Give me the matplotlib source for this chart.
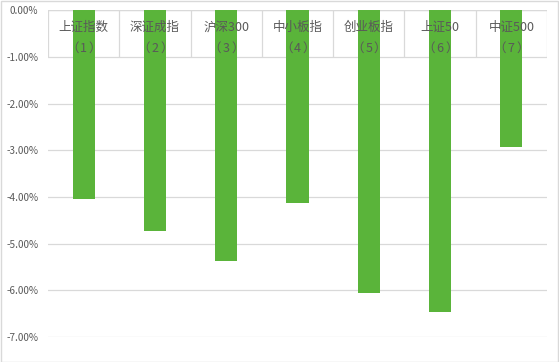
import numpy as np
import matplotlib
matplotlib.use("Agg")
import matplotlib.pyplot as plt
from matplotlib.ticker import FuncFormatter

plt.rcParams['font.family'] = ['Noto Sans CJK SC', 'DejaVu Sans']

# data (percent)
names = ["上证指数", "深证成指", "沪深300", "中小板指", "创业板指", "上证50", "中证500"]
nums = ["（1）", "（2）", "（3）", "（4）", "（5）", "（6）", "（7）"]
returns = [-4.05, -4.74, -5.38, -4.12, -6.05, -6.46, -2.93]

green = "#5ab43a"
grid_c = "#d9d9d9"
text_c = "#595959"

fig = plt.figure(figsize=(5.59, 3.62), dpi=100)
ax = fig.add_axes([48 / 559, 1 - 337 / 362, (547 - 48) / 559, (337 - 10.2) / 362])

x = np.arange(len(names))
ax.bar(x, returns, width=0.31, color=green, zorder=2)

ax.set_xlim(-0.5, len(names) - 0.5)
ax.set_ylim(-7, 0)
ax.set_yticks(np.arange(-7, 0.5, 1))
ax.yaxis.set_major_formatter(FuncFormatter(lambda v, p: f"{v:.2f}%"))
ax.tick_params(axis='y', length=0, labelsize=7.2, labelcolor=text_c, pad=7)
ax.set_xticks([])
ax.grid(axis='y', color=grid_c, linewidth=0.9, zorder=0)
for s in ax.spines.values():
    s.set_visible(False)
ax.axhline(0, color=grid_c, linewidth=0.9, zorder=1)

# category separators in the label band
bounds = np.arange(len(names) + 1) - 0.5
ax.vlines(bounds, -1, 0, color=grid_c, linewidth=0.9, zorder=1)

for i in x:
    ax.text(i, -0.36, names[i], ha='center', va='center', fontsize=9, color=text_c, zorder=3)
    # split the full-width brackets so they keep their width
    ax.text(i - 0.16, -0.81, nums[i][0], ha='center', va='center', fontsize=9, color=text_c, zorder=3)
    ax.text(i, -0.81, nums[i][1:-1], ha='center', va='center', fontsize=9, color=text_c, zorder=3)
    ax.text(i + 0.16, -0.81, nums[i][-1], ha='center', va='center', fontsize=9, color=text_c, zorder=3)

# chart border
fig.patches.append(plt.Rectangle((0.001, 0.001), 0.997, 0.997, transform=fig.transFigure,
                                 fill=False, edgecolor=grid_c, linewidth=1))

fig.savefig("out.png", dpi=100)
